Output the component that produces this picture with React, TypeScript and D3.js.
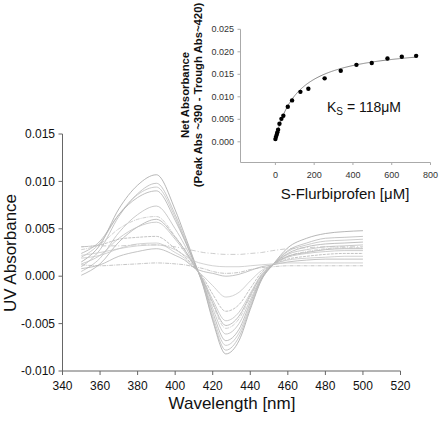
import React from "react";
import * as d3 from "d3";

// ---- Main chart data (difference spectra) ----
const wavelengths = [350, 360, 370, 380, 390, 400, 405, 410, 415, 420, 427, 434, 440, 446, 452, 460, 470, 480, 490, 500];
const spectrum1 = [0.0015, 0.0033, 0.0071, 0.0096, 0.0107, 0.0070, 0.0044, 0.0017, -0.0011, -0.0047, -0.0082, -0.0068, -0.0035, -0.0004, 0.0012, 0.0030, 0.0040, 0.0045, 0.0047, 0.0048];
const spectrum2 = [0.0010, 0.0028, 0.0063, 0.0087, 0.0098, 0.0065, 0.0041, 0.0016, -0.0010, -0.0045, -0.0078, -0.0064, -0.0033, -0.0003, 0.0012, 0.0027, 0.0035, 0.0040, 0.0041, 0.0042];
const spectrum3 = [0.0020, 0.0035, 0.0065, 0.0086, 0.0094, 0.0062, 0.0039, 0.0015, -0.0009, -0.0042, -0.0073, -0.0060, -0.0031, -0.0003, 0.0012, 0.0026, 0.0033, 0.0037, 0.0038, 0.0039];
const spectrum4 = [0.0024, 0.0037, 0.0065, 0.0083, 0.0090, 0.0059, 0.0038, 0.0015, -0.0008, -0.0038, -0.0068, -0.0056, -0.0028, -0.0002, 0.0012, 0.0024, 0.0031, 0.0034, 0.0035, 0.0036];
const spectrum5 = [0.0005, 0.0019, 0.0046, 0.0065, 0.0074, 0.0050, 0.0033, 0.0013, -0.0007, -0.0034, -0.0061, -0.0050, -0.0025, -0.0001, 0.0012, 0.0023, 0.0028, 0.0031, 0.0032, 0.0033];
const spectrum6 = [0.0028, 0.0034, 0.0050, 0.0060, 0.0063, 0.0042, 0.0028, 0.0012, -0.0006, -0.0030, -0.0055, -0.0045, -0.0022, 0.0000, 0.0012, 0.0021, 0.0026, 0.0029, 0.0030, 0.0030];
const spectrum7 = [0.0001, 0.0013, 0.0036, 0.0052, 0.0060, 0.0041, 0.0028, 0.0012, -0.0005, -0.0028, -0.0052, -0.0042, -0.0020, 0.0001, 0.0012, 0.0021, 0.0025, 0.0028, 0.0029, 0.0029];
const spectrum8 = [0.0013, 0.0022, 0.0040, 0.0052, 0.0057, 0.0039, 0.0026, 0.0011, -0.0004, -0.0025, -0.0047, -0.0038, -0.0018, 0.0002, 0.0012, 0.0020, 0.0024, 0.0026, 0.0027, 0.0027];
const spectrum9 = [0.0031, 0.0033, 0.0039, 0.0041, 0.0042, 0.0029, 0.0021, 0.0010, -0.0002, -0.0019, -0.0037, -0.0030, -0.0013, 0.0004, 0.0012, 0.0018, 0.0021, 0.0023, 0.0024, 0.0024];
const spectrum10 = [0.0019, 0.0022, 0.0029, 0.0034, 0.0035, 0.0025, 0.0019, 0.0009, 0.0000, -0.0010, -0.0022, -0.0017, -0.0005, 0.0006, 0.0012, 0.0017, 0.0019, 0.0020, 0.0021, 0.0021];
const spectrum11 = [0.0008, 0.0012, 0.0021, 0.0026, 0.0029, 0.0022, 0.0017, 0.0009, 0.0005, 0.0003, 0.0000, 0.0002, 0.0006, 0.0010, 0.0012, 0.0015, 0.0017, 0.0018, 0.0018, 0.0018];
const spectrum12 = [0.0031, 0.0032, 0.0032, 0.0033, 0.0033, 0.0031, 0.0029, 0.0027, 0.0025, 0.0024, 0.0023, 0.0023, 0.0024, 0.0025, 0.0027, 0.0029, 0.0030, 0.0031, 0.0031, 0.0031];
const spectrum13 = [0.0012, 0.0011, 0.0012, 0.0013, 0.0014, 0.0013, 0.0012, 0.0010, 0.0008, 0.0005, 0.0003, 0.0004, 0.0007, 0.0009, 0.0010, 0.0011, 0.0011, 0.0011, 0.0011, 0.0011];
const spectrum14 = [0.0022, 0.0025, 0.0029, 0.0032, 0.0033, 0.0028, 0.0022, 0.0016, 0.0013, 0.0011, 0.0010, 0.0010, 0.0011, 0.0012, 0.0013, 0.0014, 0.0014, 0.0014, 0.0014, 0.0014];
const spectra = [spectrum1, spectrum2, spectrum3, spectrum4, spectrum5, spectrum6, spectrum7, spectrum8, spectrum9, spectrum10, spectrum11, spectrum12, spectrum13, spectrum14];
const spectraColors = ["#a4a4a4", "#b8b8b8", "#c0c0c0", "#b0b0b0", "#bcbcbc", "#c4c4c4", "#b0b0b0", "#c0c0c0", "#b4b4b4", "#c6c6c6", "#b4b4b4", "#c0c0c0", "#b8b8b8", "#c8c8c8"];
const spectraDash = ["", "", "", "", "", "4,1,1,1", "", "", "3,1", "", "", "5,2,1,2", "4,1,1,1", ""];

const mainXTicks = [340, 360, 380, 400, 420, 440, 460, 480, 500, 520];
const mainYTicks = [-0.010, -0.005, 0.000, 0.005, 0.010, 0.015];

// ---- Inset data (binding titration) ----
const concentrations = [0, 3, 7, 10, 14, 21, 31, 41, 64, 86, 129, 170, 254, 337, 418, 497, 578, 652, 726];
const netAbsorbance = [0.0006, 0.0011, 0.0016, 0.0021, 0.0027, 0.0040, 0.0051, 0.0058, 0.0078, 0.0092, 0.0111, 0.0118, 0.0141, 0.0158, 0.0171, 0.0175, 0.0185, 0.0189, 0.0191];
const KS = 118;
const BMAX = 0.0213;
const OFFSET = 0.0005;
const insetXTicks = [0, 200, 400, 600, 800];
const insetYTicks = [0.000, 0.005, 0.010, 0.015, 0.020, 0.025];

const FONT = "Arial, 'Liberation Sans', sans-serif";

export default function App() {
  const W = 440, H = 421;
  // main scales
  const x = d3.scaleLinear().domain([340, 520]).range([62.5, 400.5]);
  const y = d3.scaleLinear().domain([-0.010, 0.015]).range([371, 134]);
  const line = d3
    .line<number>()
    .x((_, i) => x(wavelengths[i]))
    .y((d) => y(d))
    .curve(d3.curveMonotoneX);

  // inset scales
  const xi = d3.scaleLinear().domain([-180, 800]).range([240.5, 430.5]);
  const yi = d3.scaleLinear().domain([-0.0046, 0.025]).range([162.5, 29.3]);
  const fitConc = d3.range(0, 731, 5);
  const fitLine = d3
    .line<number>()
    .x((c) => xi(c))
    .y((c) => yi(OFFSET + (BMAX * c) / (KS + c)));

  const axisColor = "#666";
  const insetAxisColor = "#aaa";

  return (
    <svg width={W} height={H} style={{ position: "absolute", left: 0, top: 0, background: "#fff" }} fontFamily={FONT}>
      {/* Main spectra */}
      {spectra.map((s, i) => (
        <path key={i} d={line(s) || ""} fill="none" stroke={spectraColors[i]} strokeWidth={0.8} strokeDasharray={spectraDash[i] || undefined} />
      ))}

      {/* Main axes */}
      <line x1={62.5} x2={62.5} y1={y(0.015)} y2={y(-0.010)} stroke={axisColor} strokeWidth={1} />
      <line x1={62.5} x2={x(520)} y1={371} y2={371} stroke={axisColor} strokeWidth={1} />
      {mainYTicks.map((t) => (
        <g key={t}>
          <line x1={58.5} x2={62.5} y1={y(t)} y2={y(t)} stroke={axisColor} />
          <text x={55} y={y(t)} dy="0.35em" textAnchor="end" fontSize={12} fill="#111">
            {t.toFixed(3)}
          </text>
        </g>
      ))}
      {mainXTicks.map((t) => (
        <g key={t}>
          <line x1={x(t)} x2={x(t)} y1={371} y2={375} stroke={axisColor} />
          <text x={x(t)} y={390} textAnchor="middle" fontSize={12} fill="#111">
            {t}
          </text>
        </g>
      ))}
      <text x={232} y={409} textAnchor="middle" fontSize={17} fill="#111">
        Wavelength [nm]
      </text>
      <text transform="translate(16,253) rotate(-90)" textAnchor="middle" fontSize={17} fill="#111">
        UV Absorbance
      </text>

      {/* Inset */}
      <line x1={240.5} x2={240.5} y1={29.3} y2={162.5} stroke={insetAxisColor} />
      <line x1={240.5} x2={430.5} y1={162.5} y2={162.5} stroke={insetAxisColor} />
      {insetYTicks.map((t) => (
        <g key={t}>
          <line x1={237.5} x2={240.5} y1={yi(t)} y2={yi(t)} stroke={insetAxisColor} />
          <text x={234} y={yi(t)} dy="0.35em" textAnchor="end" fontSize={9} fill="#333">
            {t.toFixed(3)}
          </text>
        </g>
      ))}
      {insetXTicks.map((t) => (
        <g key={t}>
          <line x1={xi(t)} x2={xi(t)} y1={162.5} y2={165} stroke={insetAxisColor} />
          <text x={xi(t)} y={178} textAnchor="middle" fontSize={9} fill="#333">
            {t}
          </text>
        </g>
      ))}
      <path d={fitLine(fitConc) || ""} fill="none" stroke="#888" strokeWidth={1} />
      {concentrations.map((c, i) => (
        <circle key={i} cx={xi(c)} cy={yi(netAbsorbance[i])} r={2.2} fill="#000" />
      ))}
      <text x={327} y={112} fontSize={14} fill="#111">
        K<tspan fontSize={10} dy={3}>S</tspan>
        <tspan dy={-3}> = 118μM</tspan>
      </text>
      <text x={345} y={199} textAnchor="middle" fontSize={15} fill="#111">
        S-Flurbiprofen [μM]
      </text>
      <text transform="translate(185,95) rotate(-90)" textAnchor="middle" fontSize={11.3} fontWeight="bold" fill="#111">
        <tspan dy="0.35em">Net Absorbance</tspan>
      </text>
      <text transform="translate(198,95) rotate(-90)" textAnchor="middle" fontSize={11.3} fontWeight="bold" fill="#111">
        <tspan dy="0.35em">(Peak Abs ~390 - Trough Abs~420)</tspan>
      </text>
    </svg>
  );
}
